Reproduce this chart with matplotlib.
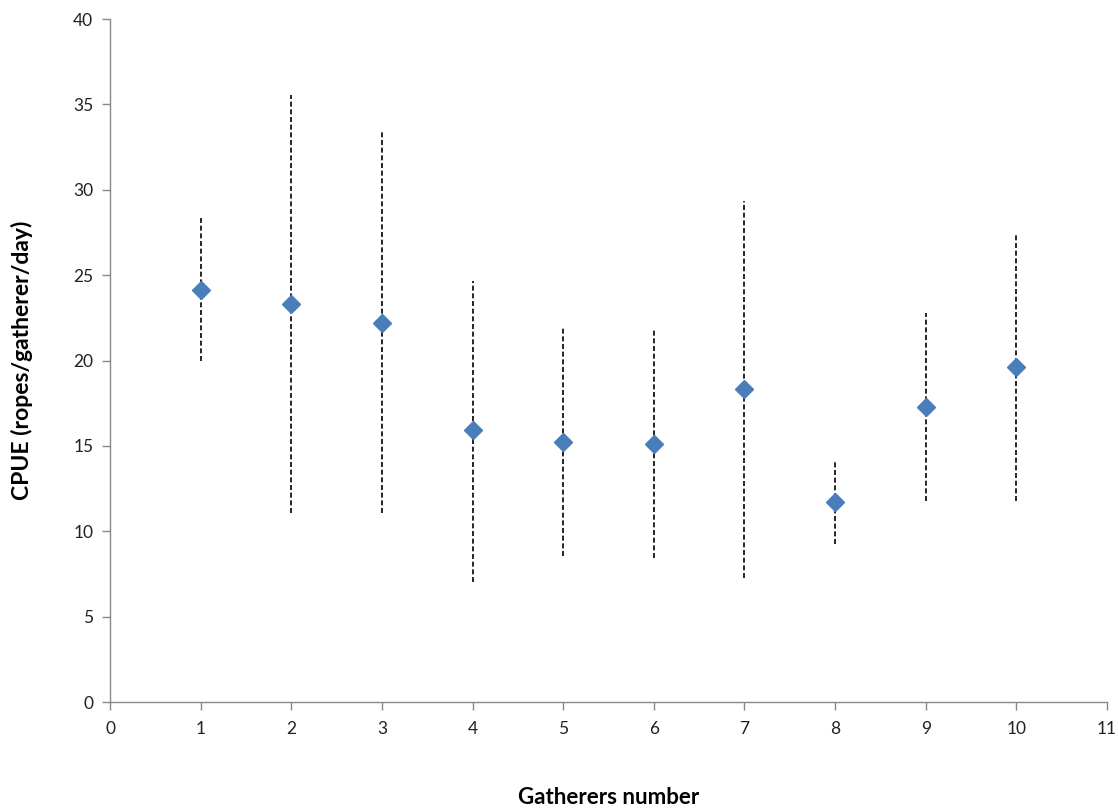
import matplotlib
matplotlib.use("Agg")
import matplotlib.pyplot as plt
import numpy as np

# CPUE by number of gatherers, with min/max ranges
gatherers = [1, 2, 3, 4, 5, 6, 7, 8, 9, 10]
cpue_mean = [24.13, 23.33, 22.2, 15.91, 15.23, 15.13, 18.31, 11.73, 17.26, 19.62]
cpue_high = [28.35, 35.55, 33.36, 24.66, 21.88, 21.79, 29.36, 14.17, 22.76, 27.45]
cpue_low = [19.97, 11.07, 11.09, 7.05, 8.55, 8.41, 7.28, 9.25, 11.79, 11.79]

x_ticks = list(range(0, 12))
y_ticks = list(range(0, 41, 5))

plt.rcParams["font.family"] = ["Lato", "DejaVu Sans"]

fig = plt.figure(figsize=(11.18, 8.10), dpi=100)
ax = fig.add_axes([0.0984, 0.1333, 0.8918, 0.8432])

for x, lo, hi in zip(gatherers, cpue_low, cpue_high):
    ax.plot([x, x], [lo, hi], color="black", linewidth=1.2,
            linestyle=(0, (3, 1.6)), zorder=2)

ax.plot(gatherers, cpue_mean, linestyle="none", marker="D", markersize=9.5,
        color="#4a7ebb", markeredgecolor="#4a7ebb", zorder=3)

ax.set_xlim(0, 11)
ax.set_ylim(0, 40)
ax.set_xticks(x_ticks)
ax.set_yticks(y_ticks)

for side in ("top", "right"):
    ax.spines[side].set_visible(False)
for side in ("left", "bottom"):
    ax.spines[side].set_color("#888888")
    ax.spines[side].set_linewidth(1.0)

ax.tick_params(axis="both", colors="#888888", labelcolor="#222222",
               labelsize=12.5, length=6, width=1.0, direction="out")
ax.tick_params(axis="x", pad=8)
ax.tick_params(axis="y", pad=6)

ax.set_ylabel("CPUE (ropes/gatherer/day)", fontsize=16.5, fontweight="bold",
              labelpad=29)
ax.set_xlabel("Gatherers number", fontsize=16, fontweight="bold", labelpad=36)

fig.savefig("out.png", dpi=100)
